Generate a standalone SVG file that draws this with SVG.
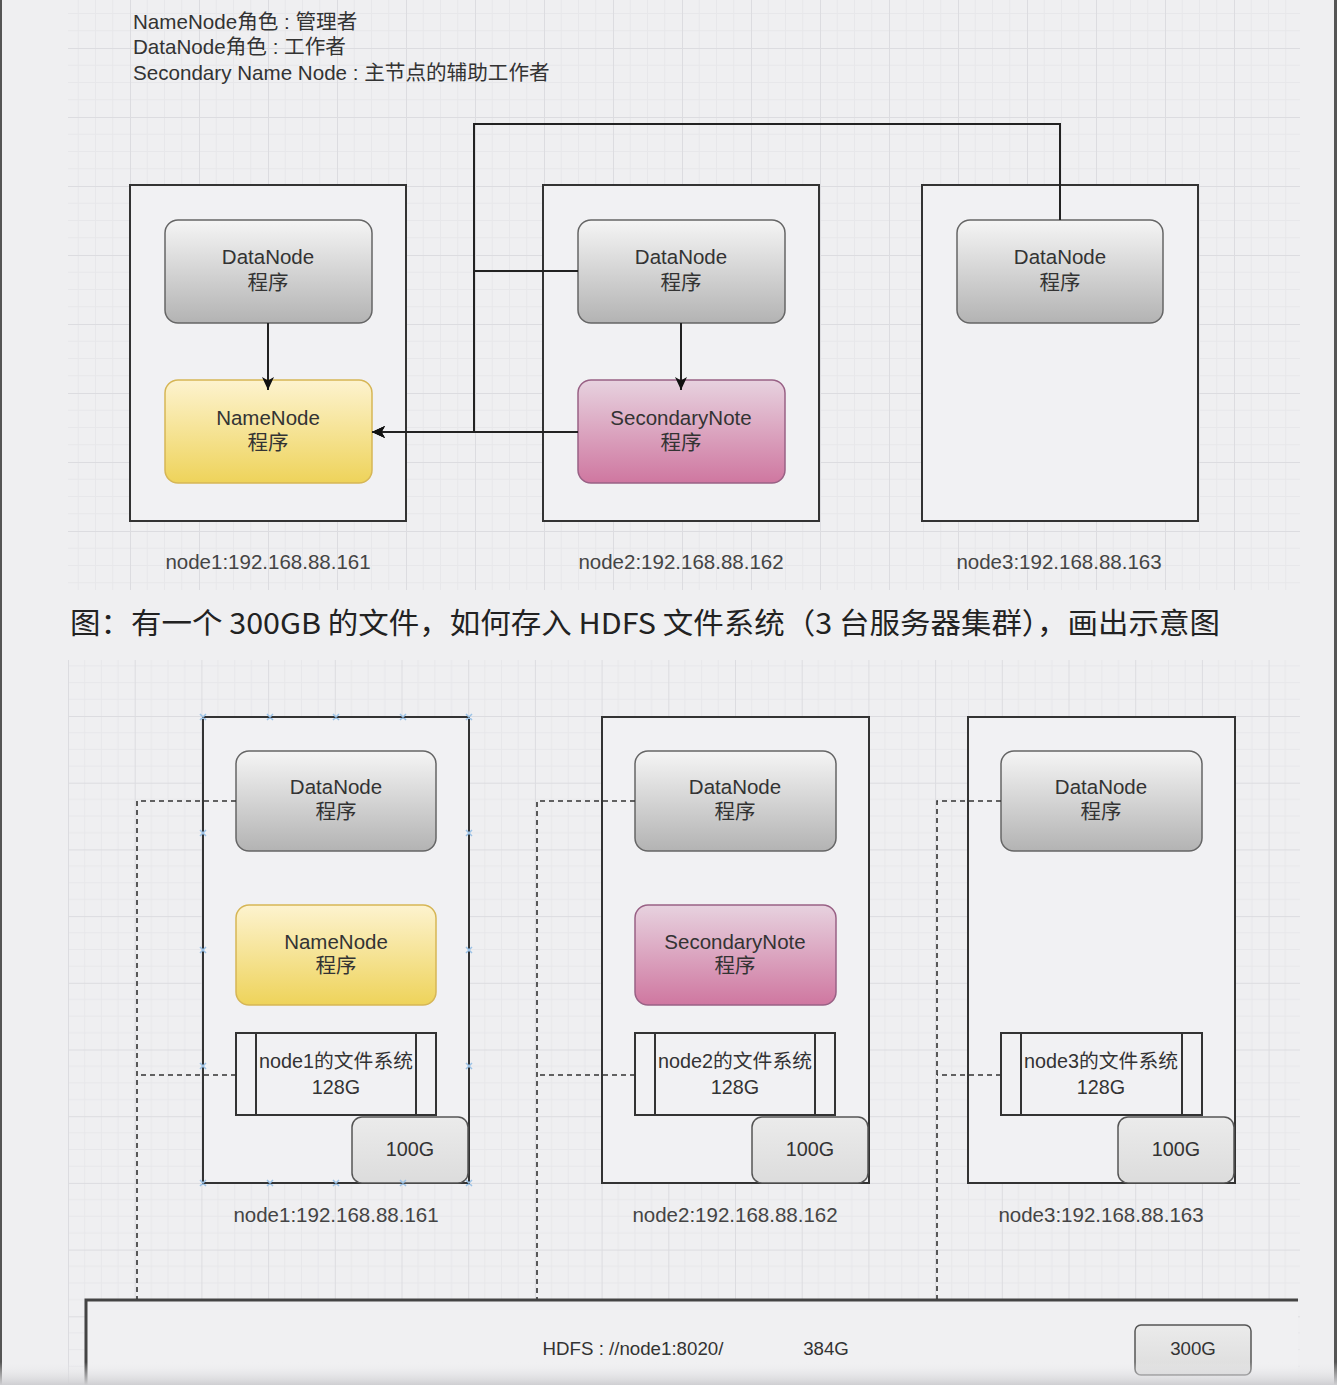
<svg xmlns="http://www.w3.org/2000/svg" width="1337" height="1385" viewBox="0 0 1337 1385">
<style>
.t{font-family:"Liberation Sans","Noto Sans CJK SC",sans-serif;fill:#333;}
.nt{font-size:20.5px;text-anchor:middle;}
.fst{font-size:19.8px;text-anchor:middle;}
.lb{font-size:20.5px;text-anchor:middle;fill:#444;}
.outer{fill:#f1f1f3;stroke:#333;stroke-width:2;}
.dn{fill:url(#gGray);stroke:#666;stroke-width:1.5;}
.nn{fill:url(#gYel);stroke:#d6b656;stroke-width:1.5;}
.sn{fill:url(#gPink);stroke:#996185;stroke-width:1.5;}
.fs{fill:#f1f1f3;stroke:#333;stroke-width:2;}
.cap{fill:url(#gLight);stroke:#555;stroke-width:1.5;}
.con{fill:none;stroke:#222;stroke-width:2;}
.dash{fill:none;stroke:#333;stroke-width:1.6;stroke-dasharray:5 4;}
.h{stroke:#9cc2e6;stroke-width:1.5;}
</style>
<defs>
<linearGradient id="gGray" x1="0" y1="0" x2="0" y2="1"><stop offset="0" stop-color="#f5f5f5"/><stop offset="1" stop-color="#b3b3b3"/></linearGradient>
<linearGradient id="gYel" x1="0" y1="0" x2="0" y2="1"><stop offset="0" stop-color="#fdf3cf"/><stop offset="1" stop-color="#eed35a"/></linearGradient>
<linearGradient id="gPink" x1="0" y1="0" x2="0" y2="1"><stop offset="0" stop-color="#e7d2df"/><stop offset="1" stop-color="#cf77a0"/></linearGradient>
<linearGradient id="gLight" x1="0" y1="0" x2="0" y2="1"><stop offset="0" stop-color="#ebebeb"/><stop offset="1" stop-color="#dcdcdc"/></linearGradient>
<linearGradient id="gBot" x1="0" y1="0" x2="0" y2="1"><stop offset="0" stop-color="#efeff1" stop-opacity="0"/><stop offset="1" stop-color="#cfcfd2"/></linearGradient>
<pattern id="gridTop" patternUnits="userSpaceOnUse" x="130" y="48" width="69" height="69">
<path d="M17.25 0V69M34.5 0V69M51.75 0V69M0 17.25H69M0 34.5H69M0 51.75H69" stroke="#e7e7ea" stroke-width="1" fill="none"/>
<path d="M0.5 0V69M0 0.5H69" stroke="#dcdce0" stroke-width="1" fill="none"/>
</pattern>
<pattern id="gridBot" patternUnits="userSpaceOnUse" x="68" y="716" width="66.7" height="66.7">
<path d="M16.7 0V66.7M33.35 0V66.7M50 0V66.7M0 16.7H66.7M0 33.35H66.7M0 50H66.7" stroke="#e7e7ea" stroke-width="1" fill="none"/>
<path d="M0.5 0V66.7M0 0.5H66.7" stroke="#dcdce0" stroke-width="1" fill="none"/>
</pattern>
<marker id="arr" markerUnits="userSpaceOnUse" markerWidth="14" markerHeight="12" refX="13" refY="6" orient="auto">
<path d="M0,0 L13,6 L0,12 L3.5,6 z" fill="#111"/>
</marker>
</defs>
<rect width="1337" height="1385" fill="#efeff1"/>
<rect x="68" y="0" width="1232" height="590" fill="url(#gridTop)"/>
<rect x="68" y="660" width="1232" height="725" fill="url(#gridBot)"/>
<rect x="0" y="0" width="2" height="1385" fill="#555"/>
<rect x="1334" y="0" width="3" height="1385" fill="#555"/>

<g id="legend">
<text class="t" x="133" y="29" font-size="20.6">NameNode角色 : 管理者</text>
<text class="t" x="133" y="54" font-size="20.6">DataNode角色 : 工作者</text>
<text class="t" x="133" y="80" font-size="20.6">Secondary Name Node : 主节点的辅助工作者</text>
</g>

<!-- top diagram -->
<g id="top-node1">
<rect class="outer" x="130" y="185" width="276" height="336"/>
<rect class="dn" x="165" y="220" width="207" height="103" rx="13"/>
<text class="t nt" x="268" y="264">DataNode</text><text class="t nt" x="268" y="290">程序</text>
<rect class="nn" x="165" y="380" width="207" height="103" rx="13"/>
<text class="t nt" x="268" y="425">NameNode</text><text class="t nt" x="268" y="450">程序</text>
<text class="t lb" x="268" y="569">node1:192.168.88.161</text>
</g>
<g id="top-node2">
<rect class="outer" x="543" y="185" width="276" height="336"/>
<rect class="dn" x="578" y="220" width="207" height="103" rx="13"/>
<text class="t nt" x="681" y="264">DataNode</text><text class="t nt" x="681" y="290">程序</text>
<rect class="sn" x="578" y="380" width="207" height="103" rx="13"/>
<text class="t nt" x="681" y="425">SecondaryNote</text><text class="t nt" x="681" y="450">程序</text>
<text class="t lb" x="681" y="569">node2:192.168.88.162</text>
</g>
<g id="top-node3">
<rect class="outer" x="922" y="185" width="276" height="336"/>
<rect class="dn" x="957" y="220" width="206" height="103" rx="13"/>
<text class="t nt" x="1060" y="264">DataNode</text><text class="t nt" x="1060" y="290">程序</text>
<text class="t lb" x="1059" y="569">node3:192.168.88.163</text>
</g>
<g id="top-connectors">
<path class="con" d="M268,323 V390" marker-end="url(#arr)"/>
<path class="con" d="M681,323 V390" marker-end="url(#arr)"/>
<path class="con" d="M1060,220 V124 H474 V432 H372" marker-end="url(#arr)"/>
<path class="con" d="M578,271 H474 V432 H372" marker-end="url(#arr)"/>
<path class="con" d="M578,432 H372" marker-end="url(#arr)"/>
</g>

<g id="caption">
<text x="70" y="634" font-family="'Noto Sans CJK SC',sans-serif" font-size="29" fill="#222" textLength="1150" lengthAdjust="spacingAndGlyphs">图：有一个 300GB 的文件，如何存入 HDFS 文件系统（3 台服务器集群），画出示意图</text>
</g>

<!-- bottom diagram -->
<g id="node1">
<rect class="outer" x="203" y="717" width="266" height="466"/>
<rect class="dn" x="236" y="751" width="200" height="100" rx="13"/>
<text class="t nt" x="336" y="794">DataNode</text><text class="t nt" x="336" y="819">程序</text>
<rect class="nn" x="236" y="905" width="200" height="100" rx="13"/>
<text class="t nt" x="336" y="949">NameNode</text><text class="t nt" x="336" y="973">程序</text>
<rect class="fs" x="236" y="1033" width="200" height="82"/>
<path d="M256,1033 V1115 M416,1033 V1115" stroke="#333" stroke-width="2"/>
<text class="t fst" x="336" y="1068">node1的文件系统</text><text class="t fst" x="336" y="1094">128G</text>
<rect class="cap" x="352" y="1117" width="116" height="66" rx="10"/>
<text class="t fst" x="410" y="1156">100G</text>
<text class="t lb" x="336" y="1222">node1:192.168.88.161</text>
<g class="h">
<path d="M200,714l6,6m0,-6l-6,6M267,714l6,6m0,-6l-6,6M333,714l6,6m0,-6l-6,6M400,714l6,6m0,-6l-6,6M466,714l6,6m0,-6l-6,6"/>
<path d="M200,1180l6,6m0,-6l-6,6M267,1180l6,6m0,-6l-6,6M333,1180l6,6m0,-6l-6,6M400,1180l6,6m0,-6l-6,6M466,1180l6,6m0,-6l-6,6"/>
<path d="M200,830l6,6m0,-6l-6,6M200,947l6,6m0,-6l-6,6M200,1063l6,6m0,-6l-6,6M466,830l6,6m0,-6l-6,6M466,947l6,6m0,-6l-6,6M466,1063l6,6m0,-6l-6,6"/>
</g>
</g>
<g id="node2">
<rect class="outer" x="602" y="717" width="267" height="466"/>
<rect class="dn" x="635" y="751" width="201" height="100" rx="13"/>
<text class="t nt" x="735" y="794">DataNode</text><text class="t nt" x="735" y="819">程序</text>
<rect class="sn" x="635" y="905" width="201" height="100" rx="13"/>
<text class="t nt" x="735" y="949">SecondaryNote</text><text class="t nt" x="735" y="973">程序</text>
<rect class="fs" x="635" y="1033" width="200" height="82"/>
<path d="M655,1033 V1115 M815,1033 V1115" stroke="#333" stroke-width="2"/>
<text class="t fst" x="735" y="1068">node2的文件系统</text><text class="t fst" x="735" y="1094">128G</text>
<rect class="cap" x="752" y="1117" width="116" height="66" rx="10"/>
<text class="t fst" x="810" y="1156">100G</text>
<text class="t lb" x="735" y="1222">node2:192.168.88.162</text>
</g>
<g id="node3">
<rect class="outer" x="968" y="717" width="267" height="466"/>
<rect class="dn" x="1001" y="751" width="201" height="100" rx="13"/>
<text class="t nt" x="1101" y="794">DataNode</text><text class="t nt" x="1101" y="819">程序</text>
<rect class="fs" x="1001" y="1033" width="201" height="82"/>
<path d="M1021,1033 V1115 M1182,1033 V1115" stroke="#333" stroke-width="2"/>
<text class="t fst" x="1101" y="1068">node3的文件系统</text><text class="t fst" x="1101" y="1094">128G</text>
<rect class="cap" x="1118" y="1117" width="116" height="66" rx="10"/>
<text class="t fst" x="1176" y="1156">100G</text>
<text class="t lb" x="1101" y="1222">node3:192.168.88.163</text>
</g>
<g id="hdfs">
<rect x="86" y="1300" width="1212" height="85" fill="#f0f0f2"/>
<path d="M86,1385 V1300 H1298" fill="none" stroke="#444" stroke-width="3"/>
<text class="t" x="633" y="1355" font-size="18.7" text-anchor="middle">HDFS : //node1:8020/</text>
<text class="t" x="826" y="1355" font-size="18.7" text-anchor="middle">384G</text>
<rect class="cap" x="1135" y="1325" width="116" height="50" rx="6"/>
<text class="t" x="1193" y="1355" font-size="18.7" text-anchor="middle">300G</text>
</g>
<g id="connectors">
<path class="dash" d="M236,801 H137 V1299"/>
<path class="dash" d="M236,1075 H137"/>
<path class="dash" d="M635,801 H537 V1299"/>
<path class="dash" d="M635,1075 H537"/>
<path class="dash" d="M1001,801 H937 V1299"/>
<path class="dash" d="M1001,1075 H937"/>
</g>
<rect x="0" y="1362" width="1337" height="23" fill="url(#gBot)"/>
</svg>
